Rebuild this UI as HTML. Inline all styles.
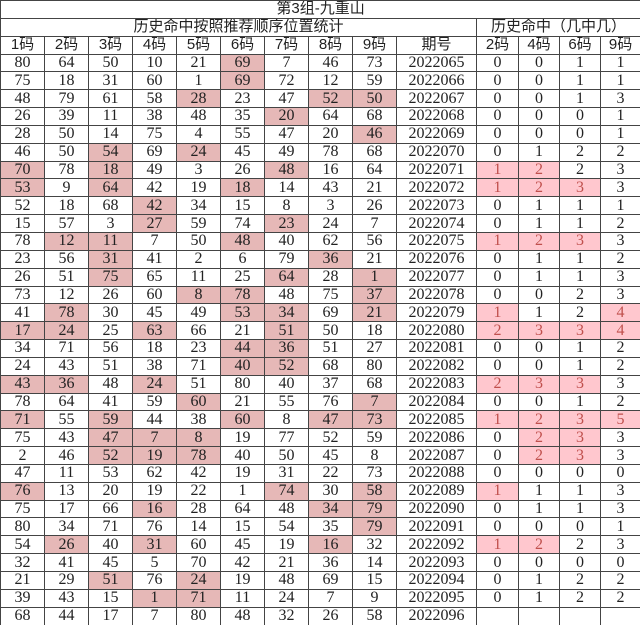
<!DOCTYPE html>
<html><head><meta charset="utf-8"><style>
html,body{margin:0;padding:0;background:#fff;width:640px;height:625px;overflow:hidden}
table{border-collapse:collapse;table-layout:fixed;width:640px;font-family:"Liberation Serif","Noto Serif CJK SC",serif;font-size:16px;color:#222}
td{border:1px solid #444;height:16.85px;padding:0;text-align:center;line-height:16px;overflow:hidden;white-space:nowrap}
.t td,.hd td{font-family:"Liberation Sans","Noto Sans CJK SC",sans-serif;font-size:15px}
.h{background:#e6b8b7}
.r{background:#ffc7ce;color:#c0504d}
</style></head><body>
<table>
<colgroup><col style="width:44px"><col style="width:44px"><col style="width:44px"><col style="width:44px"><col style="width:44px"><col style="width:44px"><col style="width:44px"><col style="width:44px"><col style="width:44px"><col style="width:80px"><col style="width:42px"><col style="width:41px"><col style="width:41px"><col style="width:40px"></colgroup>
<tr class="t"><td colspan="14">第3组-九重山</td></tr>
<tr class="t"><td colspan="10">历史命中按照推荐顺序位置统计</td><td colspan="4">历史命中（几中几）</td></tr>
<tr class="hd"><td>1码</td><td>2码</td><td>3码</td><td>4码</td><td>5码</td><td>6码</td><td>7码</td><td>8码</td><td>9码</td><td>期号</td><td>2码</td><td>4码</td><td>6码</td><td>9码</td></tr>
<tr><td>80</td><td>64</td><td>50</td><td>10</td><td>21</td><td class="h">69</td><td>7</td><td>46</td><td>73</td><td>2022065</td><td>0</td><td>0</td><td>1</td><td>1</td></tr>
<tr><td>75</td><td>18</td><td>31</td><td>60</td><td>1</td><td class="h">69</td><td>72</td><td>12</td><td>59</td><td>2022066</td><td>0</td><td>0</td><td>1</td><td>1</td></tr>
<tr><td>48</td><td>79</td><td>61</td><td>58</td><td class="h">28</td><td>23</td><td>47</td><td class="h">52</td><td class="h">50</td><td>2022067</td><td>0</td><td>0</td><td>1</td><td>3</td></tr>
<tr><td>26</td><td>39</td><td>11</td><td>38</td><td>48</td><td>35</td><td class="h">20</td><td>64</td><td>68</td><td>2022068</td><td>0</td><td>0</td><td>0</td><td>1</td></tr>
<tr><td>28</td><td>50</td><td>14</td><td>75</td><td>4</td><td>55</td><td>47</td><td>20</td><td class="h">46</td><td>2022069</td><td>0</td><td>0</td><td>0</td><td>1</td></tr>
<tr><td>46</td><td>50</td><td class="h">54</td><td>69</td><td class="h">24</td><td>45</td><td>49</td><td>78</td><td>68</td><td>2022070</td><td>0</td><td>1</td><td>2</td><td>2</td></tr>
<tr><td class="h">70</td><td>78</td><td class="h">18</td><td>49</td><td>3</td><td>26</td><td class="h">48</td><td>16</td><td>64</td><td>2022071</td><td class="r">1</td><td class="r">2</td><td>2</td><td>3</td></tr>
<tr><td class="h">53</td><td>9</td><td class="h">64</td><td>42</td><td>19</td><td class="h">18</td><td>14</td><td>43</td><td>21</td><td>2022072</td><td class="r">1</td><td class="r">2</td><td class="r">3</td><td>3</td></tr>
<tr><td>52</td><td>18</td><td>68</td><td class="h">42</td><td>34</td><td>15</td><td>8</td><td>3</td><td>26</td><td>2022073</td><td>0</td><td>1</td><td>1</td><td>1</td></tr>
<tr><td>15</td><td>57</td><td>3</td><td class="h">27</td><td>59</td><td>74</td><td class="h">23</td><td>24</td><td>7</td><td>2022074</td><td>0</td><td>1</td><td>1</td><td>2</td></tr>
<tr><td>78</td><td class="h">12</td><td class="h">11</td><td>7</td><td>50</td><td class="h">48</td><td>40</td><td>62</td><td>56</td><td>2022075</td><td class="r">1</td><td class="r">2</td><td class="r">3</td><td>3</td></tr>
<tr><td>23</td><td>56</td><td class="h">31</td><td>41</td><td>2</td><td>6</td><td>79</td><td class="h">36</td><td>21</td><td>2022076</td><td>0</td><td>1</td><td>1</td><td>2</td></tr>
<tr><td>26</td><td>51</td><td class="h">75</td><td>65</td><td>11</td><td>25</td><td class="h">64</td><td>28</td><td class="h">1</td><td>2022077</td><td>0</td><td>1</td><td>1</td><td>3</td></tr>
<tr><td>73</td><td>12</td><td>26</td><td>60</td><td class="h">8</td><td class="h">78</td><td>48</td><td>75</td><td class="h">37</td><td>2022078</td><td>0</td><td>0</td><td>2</td><td>3</td></tr>
<tr><td>41</td><td class="h">78</td><td>30</td><td>45</td><td>49</td><td class="h">53</td><td class="h">34</td><td>69</td><td class="h">21</td><td>2022079</td><td class="r">1</td><td>1</td><td>2</td><td class="r">4</td></tr>
<tr><td class="h">17</td><td class="h">24</td><td>25</td><td class="h">63</td><td>66</td><td>21</td><td class="h">51</td><td>50</td><td>18</td><td>2022080</td><td class="r">2</td><td class="r">3</td><td class="r">3</td><td class="r">4</td></tr>
<tr><td>34</td><td>71</td><td>56</td><td>18</td><td>23</td><td class="h">44</td><td class="h">36</td><td>51</td><td>27</td><td>2022081</td><td>0</td><td>0</td><td>1</td><td>2</td></tr>
<tr><td>24</td><td>43</td><td>51</td><td>38</td><td>71</td><td class="h">40</td><td class="h">52</td><td>68</td><td>80</td><td>2022082</td><td>0</td><td>0</td><td>1</td><td>2</td></tr>
<tr><td class="h">43</td><td class="h">36</td><td>48</td><td class="h">24</td><td>51</td><td>80</td><td>40</td><td>37</td><td>68</td><td>2022083</td><td class="r">2</td><td class="r">3</td><td class="r">3</td><td>3</td></tr>
<tr><td>78</td><td>64</td><td>41</td><td>59</td><td class="h">60</td><td>21</td><td>55</td><td>76</td><td class="h">7</td><td>2022084</td><td>0</td><td>0</td><td>1</td><td>2</td></tr>
<tr><td class="h">71</td><td>55</td><td class="h">59</td><td>44</td><td>38</td><td class="h">60</td><td>8</td><td class="h">47</td><td class="h">73</td><td>2022085</td><td class="r">1</td><td class="r">2</td><td class="r">3</td><td class="r">5</td></tr>
<tr><td>75</td><td>43</td><td class="h">47</td><td class="h">7</td><td class="h">8</td><td>19</td><td>77</td><td>52</td><td>59</td><td>2022086</td><td>0</td><td class="r">2</td><td class="r">3</td><td>3</td></tr>
<tr><td>2</td><td>46</td><td class="h">52</td><td class="h">19</td><td class="h">78</td><td>40</td><td>50</td><td>45</td><td>8</td><td>2022087</td><td>0</td><td class="r">2</td><td class="r">3</td><td>3</td></tr>
<tr><td>47</td><td>11</td><td>53</td><td>62</td><td>42</td><td>19</td><td>31</td><td>22</td><td>73</td><td>2022088</td><td>0</td><td>0</td><td>0</td><td>0</td></tr>
<tr><td class="h">76</td><td>13</td><td>20</td><td>19</td><td>22</td><td>1</td><td class="h">74</td><td>30</td><td class="h">58</td><td>2022089</td><td class="r">1</td><td>1</td><td>1</td><td>3</td></tr>
<tr><td>75</td><td>17</td><td>66</td><td class="h">16</td><td>28</td><td>64</td><td>48</td><td class="h">34</td><td class="h">79</td><td>2022090</td><td>0</td><td>1</td><td>1</td><td>3</td></tr>
<tr><td>80</td><td>34</td><td>71</td><td>76</td><td>14</td><td>15</td><td>54</td><td>35</td><td class="h">79</td><td>2022091</td><td>0</td><td>0</td><td>0</td><td>1</td></tr>
<tr><td>54</td><td class="h">26</td><td>40</td><td class="h">31</td><td>60</td><td>45</td><td>19</td><td class="h">16</td><td>32</td><td>2022092</td><td class="r">1</td><td class="r">2</td><td>2</td><td>3</td></tr>
<tr><td>32</td><td>41</td><td>45</td><td>5</td><td>70</td><td>42</td><td>21</td><td>36</td><td>14</td><td>2022093</td><td>0</td><td>0</td><td>0</td><td>0</td></tr>
<tr><td>21</td><td>29</td><td class="h">51</td><td>76</td><td class="h">24</td><td>19</td><td>48</td><td>69</td><td>15</td><td>2022094</td><td>0</td><td>1</td><td>2</td><td>2</td></tr>
<tr><td>39</td><td>43</td><td>15</td><td class="h">1</td><td class="h">71</td><td>11</td><td>24</td><td>7</td><td>9</td><td>2022095</td><td>0</td><td>1</td><td>2</td><td>2</td></tr>
<tr><td>68</td><td>44</td><td>17</td><td>7</td><td>80</td><td>48</td><td>32</td><td>26</td><td>58</td><td>2022096</td><td></td><td></td><td></td><td></td></tr>
</table>
</body></html>
